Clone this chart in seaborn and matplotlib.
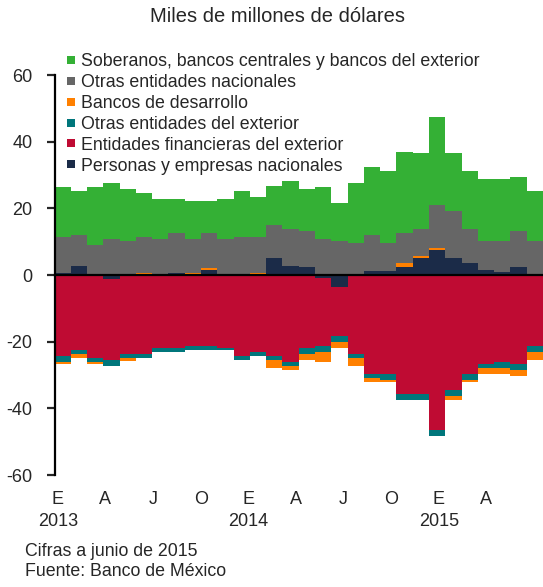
import numpy as np
import pandas as pd
import matplotlib
matplotlib.use("Agg")
import matplotlib.pyplot as plt
import matplotlib.transforms as mtransforms
from matplotlib.lines import Line2D
import seaborn as sns

# Monthly positions, January 2013 to June 2015 (miles de millones de dólares)
months = pd.period_range("2013-01", "2015-06", freq="M")

soberanos = [14.8, 13.2, 17.3, 16.7, 15.4, 13.0, 12.0, 10.2, 11.4, 9.6,
             12.0, 13.7, 11.8, 11.8, 14.4, 12.5, 15.5, 11.2, 17.8, 20.3,
             21.5, 24.4, 22.7, 26.5, 17.3, 17.4, 18.4, 18.4, 16.1, 14.9]
otras_nacionales = [11.0, 9.4, 9.0, 10.8, 10.3, 10.8, 10.8, 11.9, 10.1, 10.5,
                    10.8, 11.5, 10.8, 10.0, 11.2, 10.7, 10.8, 10.3, 9.7, 10.7,
                    8.4, 8.9, 8.2, 12.9, 14.2, 10.1, 8.8, 9.5, 10.7, 10.3]
bancos_desarrollo = [-0.6, -1.3, -0.6, 0.0, -0.7, 0.7, 0.0, 0.0, 0.7, 0.7,
                     0.0, 0.0, 0.7, -2.4, -1.2, -1.8, -3.0, -1.8, -2.4, -1.2,
                     -0.6, 1.2, 0.6, 0.6, -1.2, -0.6, -1.8, -1.8, -1.8, -2.4]
otras_exterior = [-1.9, -1.2, -1.2, -1.8, -1.2, -1.2, -1.2, -1.2, -1.2, -1.2,
                  -0.6, -1.2, -1.2, -1.2, -1.1, -1.8, -1.8, -1.8, -1.2, -1.2,
                  -1.8, -1.8, -1.8, -1.8, -1.8, -1.8, -1.2, -1.8, -1.8, -1.8]
financieras_exterior = [-24.3, -22.5, -25.0, -24.2, -23.8, -23.8, -22.0, -22.0, -21.4, -21.4,
                        -22.0, -24.4, -23.2, -24.4, -26.2, -22.0, -20.4, -14.9, -23.8, -29.8,
                        -29.8, -35.8, -35.8, -46.5, -34.6, -29.8, -26.8, -26.2, -26.8, -21.4]
personas_empresas = [0.5, 2.6, 0.0, -1.3, 0.0, 0.0, 0.0, 0.7, 0.0, 1.4,
                     0.0, 0.0, 0.0, 5.0, 2.6, 2.5, -1.0, -3.5, 0.0, 1.3,
                     1.3, 2.5, 5.0, 7.4, 5.0, 3.7, 1.5, 0.8, 2.5, 0.0]

month_letters = ["E", "A", "J", "O", "E", "A", "J", "O", "E", "A"]
year_labels = ["2013", "2014", "2015"]

title = "Miles de millones de dólares"
notes = ["Cifras a junio de 2015", "Fuente: Banco de México"]

# Series in stacking order (first one sits next to the zero line)
series = [
    ("Personas y empresas nacionales", personas_empresas, "#1b2b48"),
    ("Entidades financieras del exterior", financieras_exterior, "#bf0b33"),
    ("Otras entidades del exterior", otras_exterior, "#00767b"),
    ("Bancos de desarrollo", bancos_desarrollo, "#ff8000"),
    ("Otras entidades nacionales", otras_nacionales, "#666666"),
    ("Soberanos, bancos centrales y bancos del exterior", soberanos, "#34b035"),
]

sns.set_style("white")
plt.rcParams["font.family"] = ["Liberation Sans", "DejaVu Sans"]

W, H = 543, 587
fig = plt.figure(figsize=(W / 100, H / 100), dpi=100)
ax = fig.add_axes([54.5 / W, 1 - 475 / H, (W - 54.5) / W, 400 / H])

x = np.arange(len(months))
pos_base = np.zeros(len(x))
neg_base = np.zeros(len(x))
for name, vals, color in series:
    v = np.asarray(vals, dtype=float)
    bottom = np.where(v >= 0, pos_base, neg_base)
    ax.bar(x, v, bottom=bottom, width=1.0, color=color, linewidth=0, zorder=1)
    pos_base += np.clip(v, 0, None)
    neg_base += np.clip(v, None, 0)

ax.set_xlim(-0.5, len(x) - 0.5)
ax.set_ylim(-60, 60)

# Axes: y axis on the left, category axis along zero
for side in ("top", "right"):
    ax.spines[side].set_visible(False)
ax.spines["bottom"].set_position(("data", 0))
ax.spines["bottom"].set_linewidth(1.6)
ax.spines["bottom"].set_zorder(3)
ax.spines["left"].set_linewidth(1.6)
ax.spines["left"].set_color("black")
ax.spines["bottom"].set_color("black")

ax.set_yticks(np.arange(-60, 61, 20))
ax.set_yticklabels([f"{t:d}" for t in range(-60, 61, 20)])
ax.tick_params(axis="y", direction="out", length=6, width=1.6, pad=10,
               labelsize=13, left=True)
ax.set_xticks(np.arange(2.5, len(x) - 1, 3))
ax.set_xticklabels([])
ax.tick_params(axis="x", direction="out", length=6, width=1.6, bottom=True)

# Quarter letters and year labels below the plot
trans = mtransforms.blended_transform_factory(ax.transData, fig.transFigure)
for k, lab in enumerate(month_letters):
    i = 3 * k
    xpos = i - 0.3 - 0.025 * i
    ax.text(xpos, 1 - 499 / H, lab, transform=trans, ha="center", va="center",
            fontsize=13)
    if lab == "E":
        ax.text(xpos, 1 - 522 / H, year_labels[k // 4], transform=trans,
                ha="center", va="center", fontsize=13)

fig.text(278 / W, 1 - 17 / H, title, ha="center", va="center", fontsize=14.5)
for j, note in enumerate(notes):
    fig.text(25 / W, 1 - (552 + 20 * j) / H, note, ha="left", va="center",
             fontsize=12.8)

handles = [Line2D([], [], marker="s", linestyle="", markersize=5.5,
                  markerfacecolor=c, markeredgewidth=0)
           for _, _, c in reversed(series)]
labels = [n for n, _, _ in reversed(series)]
fig.legend(handles, labels, loc="upper left",
           bbox_to_anchor=(66 / W, 1 - 53 / H), frameon=False,
           fontsize=12.8, handlelength=0.6, handletextpad=0.25,
           labelspacing=0.22, borderpad=0, borderaxespad=0)

fig.savefig("out.png", dpi=100)
